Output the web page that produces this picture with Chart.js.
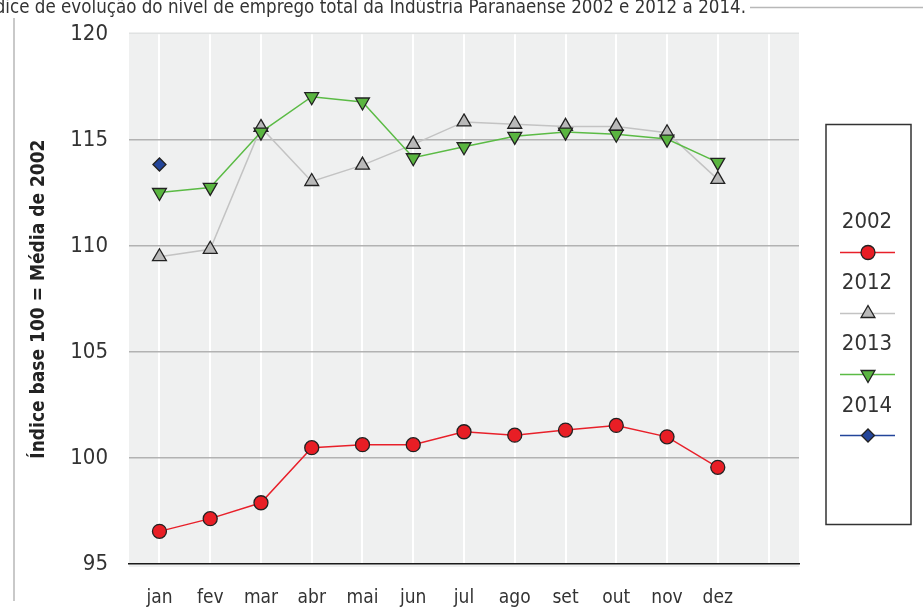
<!DOCTYPE html>
<html>
<head>
<meta charset="utf-8">
<script src="https://cdn.jsdelivr.net/npm/chart.js@4"></script>
<style>
  html, body { margin: 0; padding: 0; background: #fff; }
  #wrap { width: 923px; height: 608px; position: relative; }
</style>
</head>
<body>
<div id="wrap"><canvas id="empregoChart" width="923" height="608"></canvas></div>
<script>
const FONT = '"DejaVu Sans Condensed", "Liberation Sans Narrow", sans-serif';

const months = ['jan', 'fev', 'mar', 'abr', 'mai', 'jun', 'jul', 'ago', 'set', 'out', 'nov', 'dez'];
const yTicks = [95, 100, 105, 110, 115, 120];
const years = ['2002', '2012', '2013', '2014'];

const s2002 = [96.54, 97.14, 97.89, 100.49, 100.63, 100.63, 101.24, 101.08, 101.32, 101.54, 101.0, 99.56];
const s2012 = [109.5, 109.85, 115.6, 113.05, 113.82, 114.8, 115.86, 115.75, 115.65, 115.65, 115.35, 113.15];
const s2013 = [112.53, 112.77, 115.38, 117.05, 116.8, 114.17, 114.69, 115.18, 115.38, 115.28, 115.05, 113.95];
const s2014 = [113.85];

const chartTitle = 'Índice de evolução do nível de emprego total da Indústria Paranaense 2002 e 2012 a 2014.';
const yTitle = 'Índice base 100 = Média de 2002';

// series styles
const styles = [
    { color: '#e8202a', fill: '#e81e25', point: 'circle', radius: 7 },
    { color: '#c3c3c3', fill: '#b9b9b9', point: 'triangle', radius: 8 },
    { color: '#5bbb45', fill: '#5ab540', point: 'triangle', radius: 8, rotation: 180 },
    { color: '#23459a', fill: '#23459a', point: 'rectRot', radius: 6.5 }
];

function toPoints(values) {
    return values.map((v, i) => ({ x: i, y: v }));
}

function makeDataset(label, values, style, order) {
    return {
        label: label,
        data: toPoints(values),
        borderColor: style.color,
        borderWidth: 1.5,
        pointStyle: style.point,
        pointRadius: style.radius,
        pointRotation: style.rotation || 0,
        pointBackgroundColor: style.fill,
        pointBorderColor: '#222',
        pointBorderWidth: 1.3,
        tension: 0,
        order: order
    };
}

// frame, background, title and the boxed legend
const decorPlugin = {
    id: 'decor',
    beforeDraw(chart) {
        const { ctx, chartArea: a } = chart;
        ctx.save();
        ctx.fillStyle = '#eff0f0';
        ctx.fillRect(a.left, a.top - 1, a.right - a.left, a.bottom - a.top + 4);
        ctx.strokeStyle = '#e0e2e2';
        ctx.lineWidth = 1.5;
        ctx.beginPath();
        ctx.moveTo(a.left, a.top - 1);
        ctx.lineTo(a.right, a.top - 1);
        ctx.stroke();

        // page frame
        ctx.strokeStyle = '#b8b8b8';
        ctx.lineWidth = 1.5;
        ctx.beginPath();
        ctx.moveTo(14, 18);
        ctx.lineTo(14, 601);
        ctx.moveTo(750, 7.5);
        ctx.lineTo(923, 7.5);
        ctx.stroke();

        ctx.fillStyle = '#333';
        ctx.font = '18.6px ' + FONT;
        ctx.textAlign = 'right';
        ctx.textBaseline = 'alphabetic';
        ctx.fillText(chartTitle, 746, 13);
        ctx.restore();
    },
    afterDraw(chart) {
        const ctx = chart.ctx;
        ctx.save();
        ctx.strokeStyle = '#333';
        ctx.lineWidth = 1.5;
        ctx.strokeRect(826, 124.5, 85, 400);
        ctx.font = '22px ' + FONT;
        ctx.fillStyle = '#333';
        ctx.textAlign = 'center';
        ctx.textBaseline = 'middle';
        years.forEach((y, i) => {
            const st = styles[i];
            const ty = 222 + i * 61.3;
            const ly = 252.5 + i * 61;
            ctx.fillText(y, 867, ty);
            ctx.strokeStyle = st.color;
            ctx.lineWidth = 1.5;
            ctx.beginPath();
            ctx.moveTo(840, ly);
            ctx.lineTo(895, ly);
            ctx.stroke();
            ctx.fillStyle = st.fill;
            ctx.strokeStyle = '#222';
            ctx.lineWidth = 1.3;
            Chart.helpers.drawPoint(ctx, {
                pointStyle: st.point,
                radius: st.radius,
                rotation: st.rotation || 0,
                borderWidth: 1.3
            }, 868, ly);
            ctx.fillStyle = '#333';
        });
        ctx.restore();
    }
};

new Chart(document.getElementById('empregoChart'), {
    type: 'line',
    data: {
        datasets: [
            makeDataset(years[0], s2002, styles[0], 1),
            makeDataset(years[1], s2012, styles[1], 3),
            makeDataset(years[2], s2013, styles[2], 2),
            makeDataset(years[3], s2014, styles[3], 0)
        ]
    },
    options: {
        responsive: false,
        animation: false,
        layout: { padding: { top: 33, right: 124, bottom: 0, left: 14 } },
        plugins: {
            legend: { display: false },
            tooltip: { enabled: false }
        },
        scales: {
            x: {
                type: 'linear',
                min: -0.6,
                max: 12.6,
                afterFit: s => { s.height = 44; },
                afterBuildTicks: s => {
                    s.ticks = months.map((m, i) => ({ value: i })).concat([{ value: 12 }]);
                },
                ticks: {
                    padding: 23,
                    color: '#333',
                    font: { family: FONT, size: 19 },
                    callback: v => months[v] || ''
                },
                grid: { color: '#ffffff', lineWidth: 2, drawTicks: false },
                border: { display: true, color: '#1a1a1a', width: 1.5 }
            },
            y: {
                min: 95,
                max: 120,
                afterFit: s => { s.width = 115; },
                afterBuildTicks: s => {
                    s.ticks = yTicks.map(v => ({ value: v }));
                },
                ticks: {
                    padding: 21,
                    color: '#333',
                    font: { family: FONT, size: 22 }
                },
                grid: {
                    drawTicks: false,
                    lineWidth: 1.5,
                    color: c => (c.tick && c.tick.value === 95) || (c.tick && c.tick.value === 120) ? 'rgba(0,0,0,0)' : '#b2b2b2'
                },
                border: { display: false },
                title: {
                    display: true,
                    text: yTitle,
                    color: '#222',
                    padding: { top: 14, bottom: 0 },
                    font: { family: FONT, size: 19, weight: 'bold' }
                }
            }
        }
    },
    plugins: [decorPlugin]
});
</script>
</body>
</html>
